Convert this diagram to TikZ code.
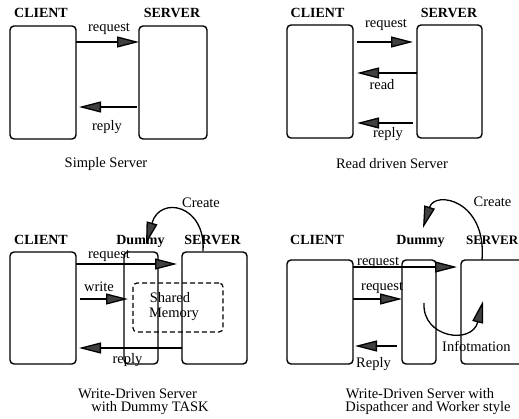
\documentclass[tikz,border=0pt]{standalone}
\usepackage{fontspec}
\setmainfont{Liberation Serif}
\usetikzlibrary{arrows.meta}
\begin{document}
\begin{tikzpicture}[x=1pt,y=-1pt,
  box/.style={draw, line width=1.4pt, rounded corners=4pt, inner sep=0pt, outer sep=0pt},
  membox/.style={draw, dashed, dash pattern=on 5pt off 3pt, line width=1.2pt, rounded corners=4pt, inner sep=0pt},
  arr/.style={line width=1.3pt, -{Triangle[length=22pt,width=11pt,fill=black!75]}},
  lab/.style={font=\fontsize{14.5}{16}\selectfont, inner sep=0pt, anchor=base},
  hd/.style={font=\fontsize{14}{15}\selectfont\bfseries, inner sep=0pt, anchor=base},
  captxt/.style={font=\fontsize{14.5}{16}\selectfont, inner sep=0pt, anchor=base}]
\useasboundingbox (0,0) rectangle (519,419);

% ---------- Panel 1: Simple Server
\node[box, minimum width=66pt, minimum height=113pt] (c1) at (43,82.5) {};
\node[box, minimum width=68pt, minimum height=113pt] (s1) at (173,82.5) {};
\node[hd] (c1l) at (41,18) {CLIENT};
\node[hd] (s1l) at (172,18) {SERVER};
\coordinate (r1a) at (137,107);
\coordinate (r1b) at (79,107);
\draw[arr] (c1.east|-0,42) -- (s1.west|-0,42);
\draw[arr] (r1a) -- (r1b);
\node[lab] (q1) at (109,32) {request};
\node[lab] (p1) at (107,131) {reply};
\node[captxt] (t1) at (106,168) {Simple Server};

% ---------- Panel 2: Read driven Server
\node[box, minimum width=66pt, minimum height=113pt] (c2) at (320,81.5) {};
\node[box, minimum width=65pt, minimum height=113pt] (s2) at (449.5,81.5) {};
\node[hd] (c2l) at (317.5,18) {CLIENT};
\node[hd] (s2l) at (449,18) {SERVER};
\coordinate (q2a) at (357,42);
\coordinate (q2b) at (413,42);
\coordinate (rd2b) at (357,73);
\coordinate (p2a) at (413,123);
\coordinate (p2b) at (357,123);
\draw[arr] (q2a) -- (q2b);
\draw[arr] (s2.west|-0,73) -- (rd2b);
\draw[arr] (p2a) -- (p2b);
\node[lab] (q2) at (386,28) {request};
\node[lab] (rd2) at (382,90) {read};
\node[lab] (p2) at (388,138) {reply};
\node[captxt] (t2) at (392,169) {Read driven Server};

% ---------- Panel 3: Write-Driven Server with Dummy TASK
\node[box, minimum width=66pt, minimum height=112pt] (c3) at (43,308) {};
\node[box, minimum width=34pt, minimum height=112pt] (d3) at (141,308) {};
\node[box, minimum width=65pt, minimum height=112pt] (s3) at (214.5,308) {};
\node[membox, minimum width=90pt, minimum height=49pt] (m3) at (178,307.5) {};
\node[hd] (c3l) at (41,245) {CLIENT};
\node[hd] (d3l) at (140.5,245) {Dummy};
\node[hd] (s3l) at (212.5,245) {SERVER};
\coordinate (q3b) at (177,264);
\coordinate (w3a) at (80,299);
\coordinate (w3b) at (128,299);
\coordinate (p3b) at (79,348);
\coordinate (cr3a) at (203,251);
\coordinate (cr3b) at (146,244);
\draw[arr] (c3.east|-0,264) -- (q3b);
\draw[arr] (w3a) -- (w3b);
\draw[arr] (s3.west|-0,348) -- (p3b);
\draw[arr] (cr3a) .. controls (206,205) and (160,195) .. (cr3b);
\node[lab] (q3) at (109,259) {request};
\node[lab] (w3) at (99,292) {write};
\node[lab] (sh3) at (170,303) {Shared};
\node[lab] (me3) at (174,318) {Memory};
\node[lab] (p3) at (127.5,363) {reply};
\node[lab] (cl3) at (201,208) {Create};
\node[captxt] (t3a) at (137.5,398) {Write-Driven Server};
\node[captxt] (t3b) at (150,411) {with Dummy TASK};

% ---------- Panel 4: Dispatcher and Worker style
\node[box, minimum width=66pt, minimum height=104pt] (c4) at (320,312) {};
\node[box, minimum width=34pt, minimum height=104pt] (d4) at (419,312) {};
\node[box, minimum width=69pt, minimum height=104pt] (s4) at (495.5,312) {};
\node[hd] (c4l) at (317,245) {CLIENT};
\node[hd] (d4l) at (420.5,245) {Dummy};
\node[hd, font=\fontsize{13}{15}\selectfont\bfseries, anchor=base east] (s4l) at (518.5,245) {SERVER};
\coordinate (q4b) at (457,267);
\coordinate (r4a) at (397,346);
\coordinate (r4b) at (355,346);
\coordinate (cr4a) at (482,260);
\coordinate (cr4b) at (423,228);
\coordinate (in4a) at (424,303);
\coordinate (in4b) at (483,301);
\draw[arr] (c4.east|-0,267) -- (q4b);
\draw[arr] (c4.east|-0,299) -- (d4.west|-0,299);
\draw[arr] (r4a) -- (r4b);
\draw[arr] (cr4a) .. controls (487,200) and (435,190) .. (cr4b);
\draw[arr] (in4a) .. controls (422,338) and (472,345) .. (in4b);
\node[lab, anchor=base west] (q4a) at (357,266) {request};
\node[lab, anchor=base west] (q4c) at (361,291) {request};
\node[lab, anchor=base west] (in4) at (442,351) {Infotmation};
\node[lab] (rp4) at (373.5,367) {Reply};
\node[lab] (cl4) at (492.5,207) {Create};
\node[captxt] (t4a) at (420,398) {Write-Driven Server with};
\node[captxt] (t4b) at (428,411) {Dispathcer and Worker style};
\end{tikzpicture}
\end{document}
